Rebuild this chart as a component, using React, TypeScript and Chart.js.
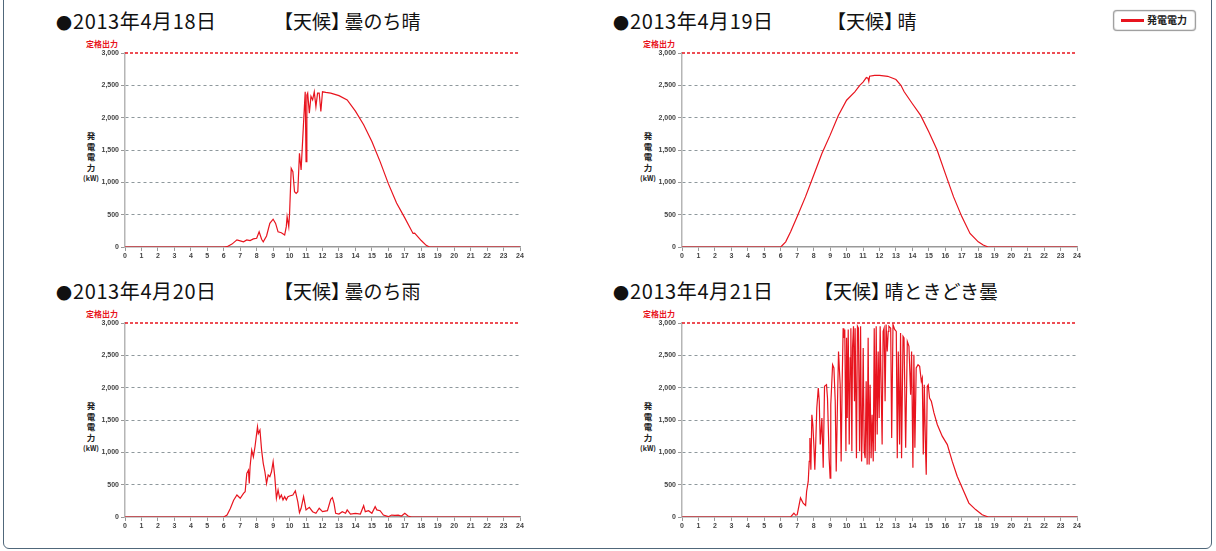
import { useEffect, useRef } from 'react';
import { Chart, registerables } from 'chart.js';

Chart.register(...registerables);

const RED = '#e8141e';
const RATED_KW = 3000;

// 2013/4/18 曇のち晴
const hours18 = [0, 6.0, 6.2, 6.5, 6.8, 7.0, 7.2, 7.4, 7.6, 7.8, 8.0, 8.15, 8.3, 8.4, 8.6, 8.8, 9.0, 9.15, 9.3, 9.5, 9.7, 9.8, 9.85, 9.95, 10.0, 10.1, 10.2, 10.3, 10.4, 10.5, 10.6, 10.7, 10.8, 10.9, 10.95, 11.0, 11.05, 11.1, 11.2, 11.3, 11.4, 11.5, 11.6, 11.7, 11.8, 11.9, 12.0, 12.2, 12.5, 13.0, 13.5, 14.0, 14.5, 15.0, 15.5, 16.0, 16.5, 17.0, 17.5, 17.6, 18.0, 18.3, 18.5, 24];
const kw18 = [0, 0, 5, 45, 110, 95, 80, 110, 100, 125, 135, 235, 120, 80, 170, 365, 430, 365, 235, 220, 185, 315, 470, 315, 520, 1215, 1165, 855, 830, 855, 1450, 1190, 1680, 2170, 2400, 1320, 2350, 2380, 2070, 2330, 2275, 2400, 2170, 2380, 2380, 2095, 2400, 2390, 2380, 2340, 2275, 2100, 1890, 1630, 1320, 980, 680, 450, 210, 215, 100, 26, 0, 0];

// 2013/4/19 晴
const hours19 = [0, 6.0, 6.3, 6.6, 7.0, 7.5, 8.0, 8.5, 9.0, 9.5, 10.0, 10.5, 10.8, 11.0, 11.2, 11.3, 11.35, 11.4, 11.7, 12.0, 12.5, 13.0, 13.3, 13.5, 14.0, 14.5, 15.0, 15.5, 16.0, 16.5, 17.0, 17.5, 18.0, 18.3, 18.6, 24];
const kw19 = [0, 0, 80, 235, 470, 775, 1110, 1445, 1730, 2035, 2270, 2400, 2500, 2550, 2620, 2610, 2560, 2640, 2655, 2655, 2640, 2590, 2500, 2400, 2215, 2035, 1780, 1500, 1135, 775, 470, 210, 80, 30, 0, 0];

// 2013/4/20 曇のち雨
const hours20 = [0, 6.0, 6.2, 6.4, 6.6, 6.8, 7.0, 7.2, 7.3, 7.4, 7.5, 7.55, 7.6, 7.7, 7.8, 7.9, 8.05, 8.1, 8.2, 8.3, 8.4, 8.5, 8.6, 8.7, 8.8, 8.9, 9.0, 9.1, 9.2, 9.3, 9.4, 9.5, 9.6, 9.7, 9.8, 9.9, 10.0, 10.2, 10.35, 10.5, 10.6, 10.7, 10.85, 11.0, 11.2, 11.4, 11.6, 11.8, 12.0, 12.3, 12.5, 12.6, 12.7, 12.8, 13.0, 13.2, 13.4, 13.5, 13.7, 14.0, 14.3, 14.5, 14.6, 14.8, 15.0, 15.2, 15.3, 15.5, 15.7, 16.0, 16.2, 16.4, 16.6, 16.8, 17.0, 17.2, 17.4, 24];
const kw20 = [0, 0, 30, 130, 260, 340, 290, 365, 390, 675, 725, 520, 780, 1035, 930, 1090, 1395, 1290, 1345, 1035, 830, 700, 520, 650, 625, 700, 855, 625, 290, 420, 290, 340, 265, 315, 265, 315, 325, 340, 405, 235, 67, 135, 315, 110, 150, 82, 57, 135, 82, 98, 273, 300, 210, 57, 46, 82, 57, 110, 46, 57, 46, 175, 82, 98, 57, 160, 110, 98, 30, 5, 30, 26, 30, 15, 57, 15, 0, 0];

// 2013/4/21 晴ときどき曇
const hours21 = [0, 6.6, 6.8, 6.9, 7.0, 7.2, 7.36, 7.51, 7.57, 7.67, 7.73, 7.77, 7.83, 7.89, 7.95, 8.01, 8.07, 8.13, 8.19, 8.28, 8.34, 8.4, 8.5, 8.58, 8.66, 8.78, 8.84, 8.94, 9.0, 9.04, 9.15, 9.23, 9.31, 9.37, 9.43, 9.51, 9.61, 9.67, 9.73, 9.79, 9.83, 9.89, 9.96, 10.0, 10.04, 10.1, 10.16, 10.22, 10.26, 10.32, 10.36, 10.42, 10.48, 10.52, 10.6, 10.66, 10.72, 10.79, 10.85, 10.91, 10.95, 11.01, 11.07, 11.13, 11.19, 11.25, 11.31, 11.37, 11.43, 11.49, 11.55, 11.62, 11.68, 11.74, 11.8, 11.86, 11.92, 11.98, 12.04, 12.1, 12.16, 12.22, 12.28, 12.34, 12.4, 12.47, 12.53, 12.57, 12.68, 12.74, 12.82, 12.92, 13.02, 13.08, 13.14, 13.22, 13.28, 13.34, 13.43, 13.49, 13.59, 13.69, 13.79, 13.89, 13.95, 14.03, 14.09, 14.15, 14.23, 14.34, 14.44, 14.54, 14.6, 14.66, 14.72, 14.8, 14.84, 14.9, 14.96, 15.04, 15.15, 15.31, 15.51, 15.81, 16.12, 16.42, 16.72, 17.03, 17.43, 17.84, 18.24, 18.61, 24];
const kw21 = [0, 0, 60, 30, 35, 295, 215, 180, 395, 550, 860, 1220, 730, 1580, 1430, 1120, 730, 1170, 1685, 1995, 1790, 1120, 1530, 760, 2020, 2045, 1840, 910, 600, 1740, 2355, 2305, 1790, 705, 1530, 2560, 2045, 860, 2045, 2920, 2770, 2900, 1015, 2770, 1530, 2900, 1120, 2460, 2920, 1015, 2615, 2950, 1790, 2920, 910, 2950, 2920, 1015, 2950, 860, 1275, 2615, 1015, 910, 2100, 810, 2770, 810, 2045, 910, 1580, 860, 2920, 1015, 2950, 1275, 2560, 1530, 2950, 2045, 1120, 2870, 2920, 1790, 2975, 2560, 2870, 2950, 2920, 1220, 2975, 2900, 2870, 910, 2560, 1120, 2845, 910, 2795, 2770, 1070, 2715, 2640, 1890, 2560, 760, 2510, 1070, 2305, 2355, 2330, 2100, 2150, 965, 2045, 1015, 655, 2020, 2045, 1840, 1790, 1610, 1430, 1250, 1120, 860, 630, 450, 215, 115, 35, 0, 0];

const yTitle = ['発', '電', '電', '力'];

interface Day {
  date: string;
  weatherLabel: string;
  weather: string;
  hours: number[];
  kw: number[];
  ox: number;
  oy: number;
  weatherX: number;
}

const days: Day[] = [
  { date: '2013年4月18日', weatherLabel: '【天候', weather: '曇のち晴', hours: hours18, kw: kw18, ox: 0, oy: 0, weatherX: 274 },
  { date: '2013年4月19日', weatherLabel: '【天候', weather: '晴', hours: hours19, kw: kw19, ox: 557, oy: 0, weatherX: 270 },
  { date: '2013年4月20日', weatherLabel: '【天候', weather: '曇のち雨', hours: hours20, kw: kw20, ox: 0, oy: 270, weatherX: 274 },
  { date: '2013年4月21日', weatherLabel: '【天候', weather: '晴ときどき曇', hours: hours21, kw: kw21, ox: 557, oy: 270, weatherX: 257 },
];

const CJK = '"Noto Sans CJK JP", "Noto Sans", sans-serif';
const tickFont = { family: '"Liberation Sans", Arial, sans-serif', size: 7, weight: 'bold' as const };

const DayChart = ({ day }: { day: Day }) => {
  const canvasRef = useRef<HTMLCanvasElement>(null);

  useEffect(() => {
    if (!canvasRef.current) return;
    const points = day.hours.map((h, i) => ({ x: h, y: day.kw[i] }));

    const chart = new Chart(canvasRef.current, {
      type: 'line',
      data: {
        datasets: [
          {
            label: '発電電力',
            data: points,
            borderColor: RED,
            borderWidth: 1.2,
            pointRadius: 0,
            tension: 0,
            fill: false,
          },
          {
            label: '定格出力',
            data: [{ x: 0, y: RATED_KW }, { x: 24, y: RATED_KW }],
            borderColor: RED,
            borderWidth: 1.5,
            borderDash: [3, 2],
            pointRadius: 0,
            clip: false,
          },
        ],
      },
      options: {
        animation: false,
        responsive: false,
        maintainAspectRatio: false,
        layout: { padding: { top: 15, right: 15, left: 0, bottom: 0 } },
        plugins: { legend: { display: false }, tooltip: { enabled: false } },
        scales: {
          x: {
            type: 'linear',
            min: 0,
            max: 24,
            ticks: { stepSize: 1, autoSkip: false, maxRotation: 0, padding: 1, color: '#444', font: tickFont },
            grid: { drawOnChartArea: false, drawTicks: true, tickLength: 4, tickColor: '#999' },
            border: { color: '#999', width: 1.5 },
            afterFit: (s: any) => { s.height = 21; },
          },
          y: {
            min: 0,
            max: RATED_KW,
            ticks: {
              stepSize: 500,
              padding: 2,
              color: '#444',
              font: tickFont,
              callback: (v: any) => Number(v).toLocaleString('en-US'),
            },
            grid: {
              color: (ctx: any) => (ctx.tick && (ctx.tick.value === 0 || ctx.tick.value === RATED_KW) ? 'rgba(0,0,0,0)' : '#8e989c'),
              lineWidth: 1,
              tickLength: 4,
              tickColor: '#999',
              tickBorderDash: [],
            },
            border: { dash: [3, 3], color: '#b5b5b5', width: 1.5 },
            afterFit: (s: any) => { s.width = 70; },
          },
        },
      },
    } as any);

    return () => chart.destroy();
  }, [day]);

  const { ox, oy } = day;
  return (
    <>
      <div style={{ position: 'absolute', left: ox + 56, top: oy + 11, fontFamily: CJK, fontSize: 20, lineHeight: '20px', color: '#111', whiteSpace: 'nowrap' }}>
        <span style={{ fontSize: 16, marginRight: 1 }}>●</span>
        <span style={{ letterSpacing: 0.6 }}>{day.date}</span>
      </div>
      <div style={{ position: 'absolute', left: ox + day.weatherX, top: oy + 11, fontFamily: CJK, fontSize: 19, lineHeight: '20px', color: '#111', whiteSpace: 'nowrap' }}>
        {day.weatherLabel}
        <span style={{ fontFeatureSettings: '"halt"', marginRight: 4 }}>】</span>
        {day.weather}
      </div>
      <div style={{ position: 'absolute', left: ox + 86, top: oy + 39, fontFamily: CJK, fontSize: 8, fontWeight: 'bold', lineHeight: '9px', color: RED, whiteSpace: 'nowrap' }}>
        定格出力
      </div>
      <div style={{ position: 'absolute', left: ox + 76, width: 30, top: oy + 130, fontFamily: CJK, fontSize: 8.5, fontWeight: 'bold', lineHeight: '10.7px', color: '#222', textAlign: 'center' }}>
        {yTitle.map((c, i) => (
          <div key={i}>{c}</div>
        ))}
        <div style={{ fontSize: 7 }}>(kW)</div>
      </div>
      <canvas
        ref={canvasRef}
        width={480}
        height={230}
        style={{ position: 'absolute', left: ox + 55, top: oy + 38, width: 480, height: 230 }}
      />
    </>
  );
};

const App = () => {
  return (
    <div style={{ position: 'fixed', left: 0, top: 0, width: 1216, height: 551, background: '#fff', overflow: 'hidden' }}>
      <div style={{ position: 'absolute', left: 3, top: -10, width: 1207, height: 557, border: '1.5px solid #50677a', borderRadius: 6 }} />
      {days.map((d) => (
        <DayChart key={d.date} day={d} />
      ))}
      <div style={{ position: 'absolute', left: 1113, top: 10, width: 81, height: 19, border: '1.5px solid #a0a0a0', borderRadius: 4, boxShadow: 'inset 0 0 0 1px #e4e4e4, 0 0 1px #888', background: '#fff' }}>
        <div style={{ position: 'absolute', left: 7, top: 8, width: 23, height: 3, background: RED }} />
        <div style={{ position: 'absolute', left: 33, top: 3, fontFamily: CJK, fontSize: 10, fontWeight: 'bold', lineHeight: '12px', color: '#222', whiteSpace: 'nowrap' }}>
          発電電力
        </div>
      </div>
    </div>
  );
};

export default App;
